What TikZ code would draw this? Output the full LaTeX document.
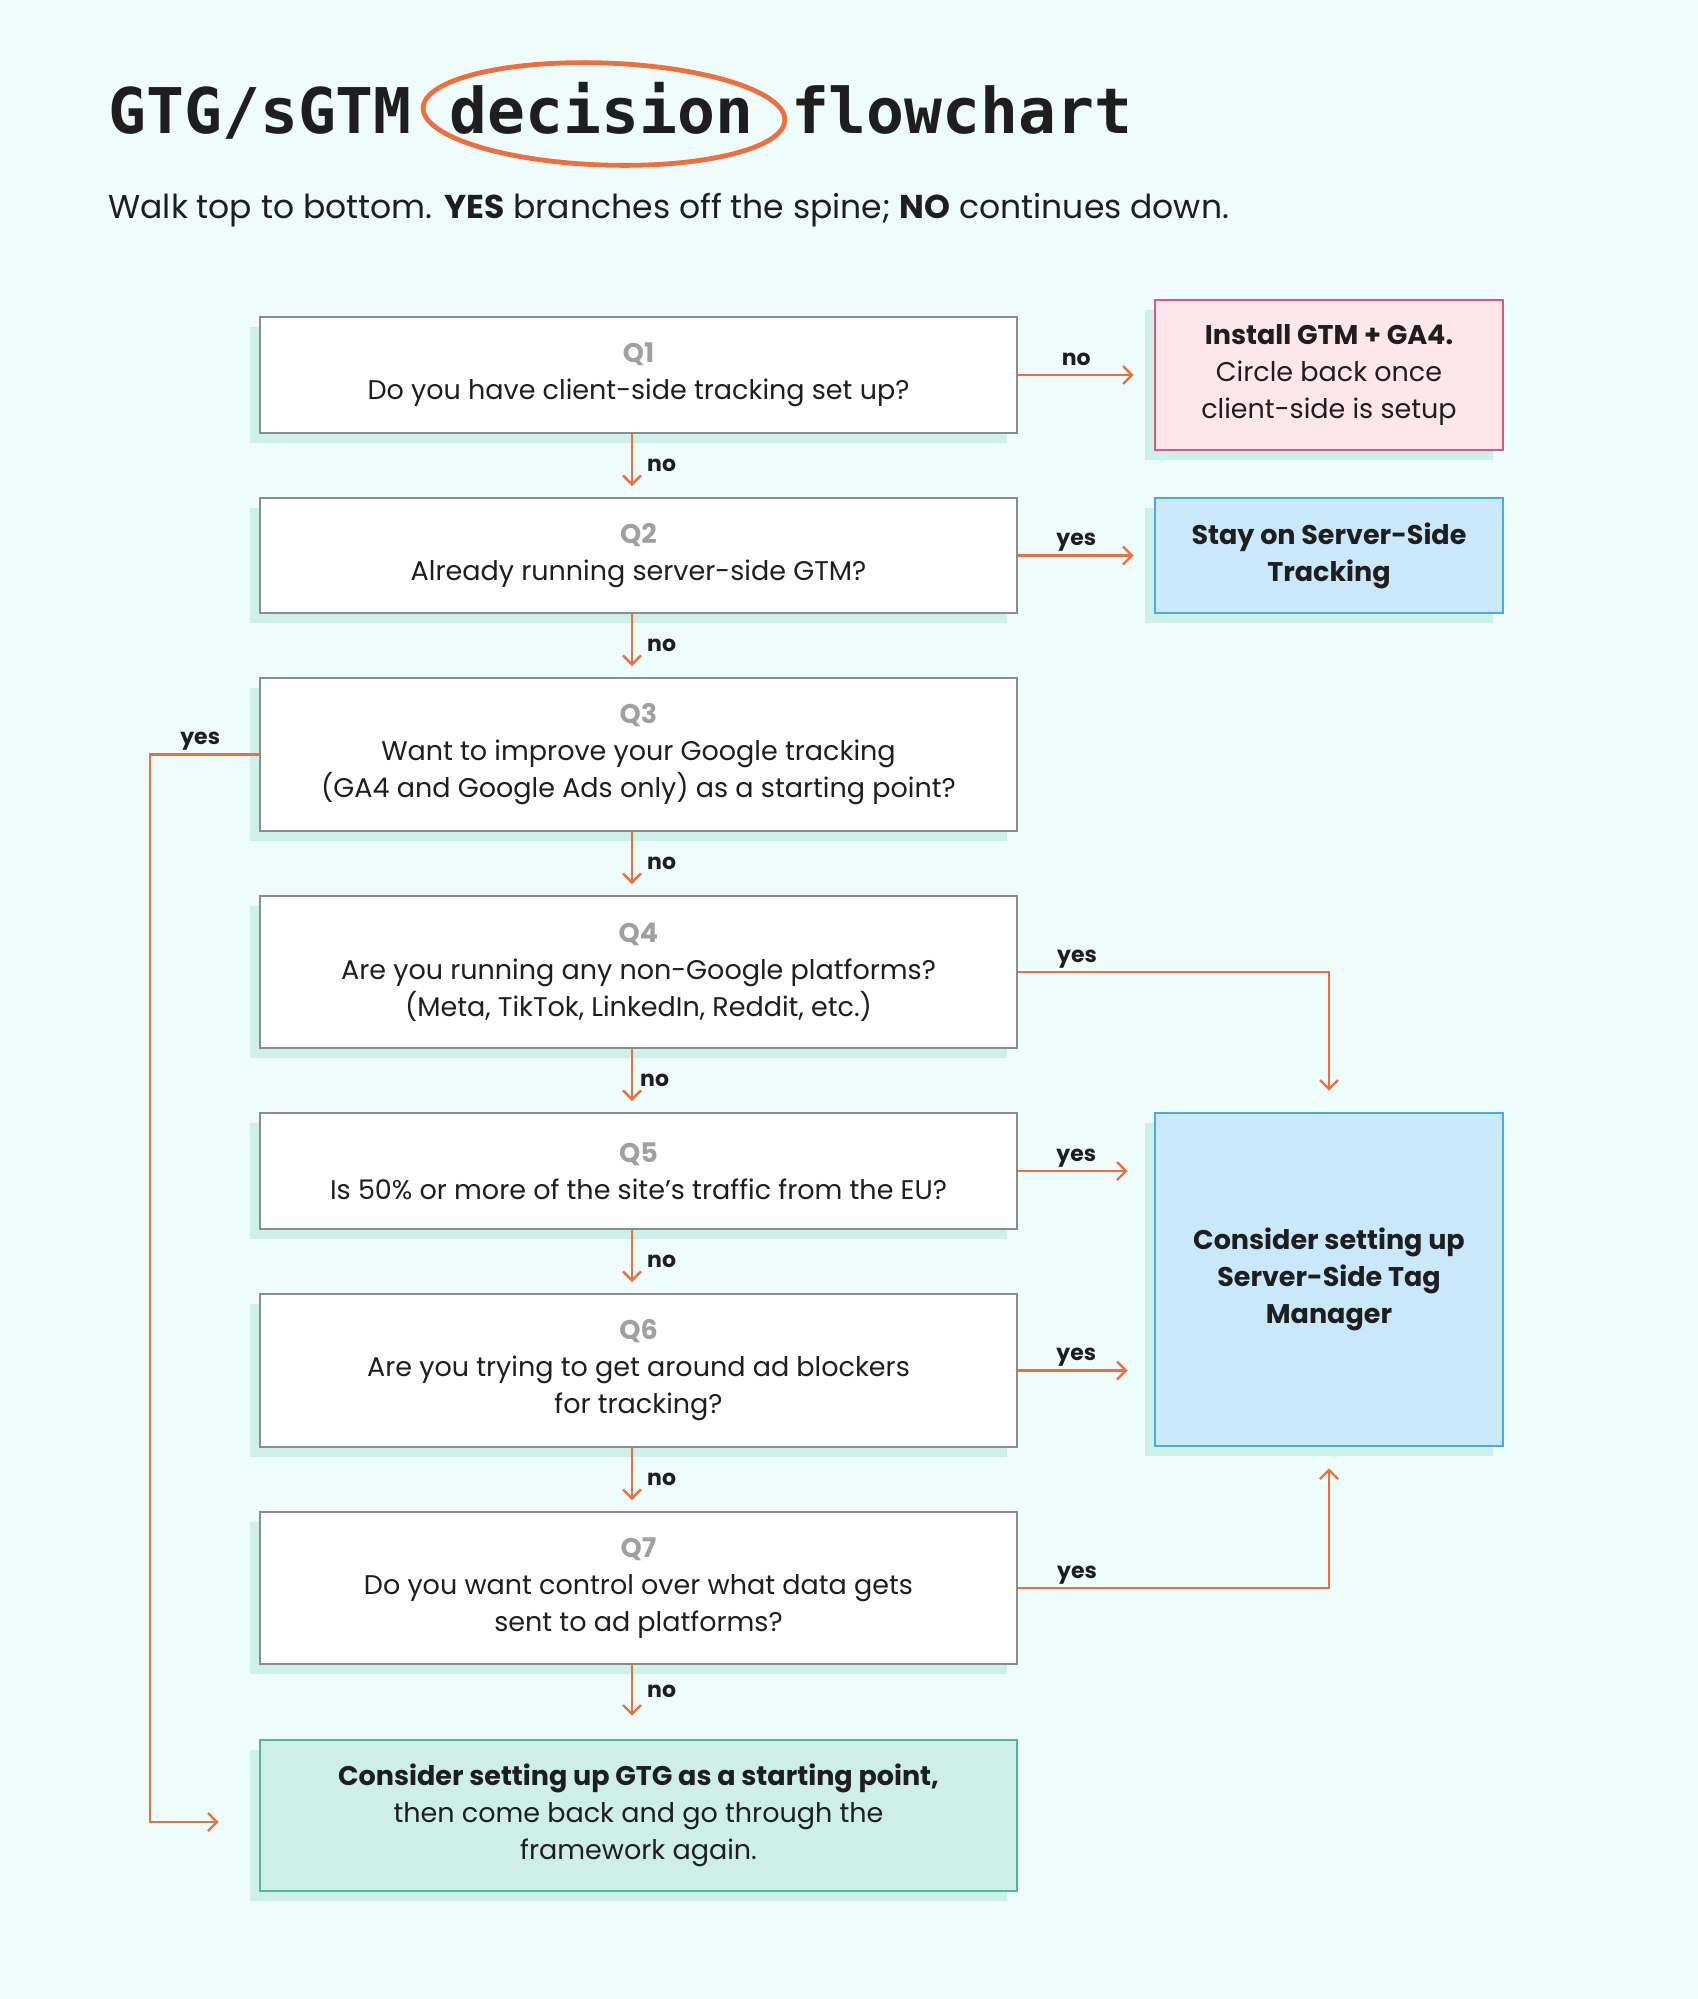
\documentclass[tikz,border=0pt]{standalone}
\usepackage{fontspec}
\setmainfont{Poppins}
\newfontfamily\titlefont{DejaVu Sans Mono}
\usetikzlibrary{arrows.meta,shadows,calc}
\definecolor{bgc}{HTML}{EEFDFC}
\definecolor{shd}{HTML}{CDF0E8}
\definecolor{org}{HTML}{F26D3D}
\definecolor{qbord}{HTML}{8C8C8C}
\definecolor{qlab}{HTML}{A0A0A0}
\definecolor{ink}{HTML}{1E1E1E}
\definecolor{pinkf}{HTML}{FDE6EC}
\definecolor{pinkb}{HTML}{E2557F}
\definecolor{bluef}{HTML}{C9E9FB}
\definecolor{blueb}{HTML}{4AAAE8}
\definecolor{greenf}{HTML}{CDEFE7}
\definecolor{greenb}{HTML}{52B890}
\begin{document}
\begin{tikzpicture}[x=0.5pt,y=-0.5pt,
  box/.style={line width=0.9pt, align=center, inner sep=0pt, text=ink,
    font=\fontsize{13.5}{18.5}\selectfont,
    drop shadow={shadow xshift=-5pt, shadow yshift=-5pt, fill=shd, opacity=1}},
  qbox/.style={box, draw=qbord, fill=white, minimum width=378.5pt},
  rbox/.style={box, line width=1.3pt, minimum width=174pt},
  arr/.style={draw=org, line width=1.2pt, -{Straight Barb[length=4.5pt,width=9pt]}},
  lbl/.style={inner sep=0pt, text=ink, font=\fontsize{11}{13}\selectfont\bfseries},
  hlbl/.style={lbl, anchor=base, yshift=5pt}]
\fill[bgc] (0,0) rectangle (1698,1999);
\useasboundingbox (0,0) rectangle (1698,1999);

% title
\node[anchor=base west, inner sep=0pt, text=ink, font=\titlefont\bfseries\fontsize{31.5}{36}\selectfont] (title) at (108,133) {GTG/sGTM decision flowchart};
\draw[org, line width=2.4pt, line cap=round, rotate around={-2:(604,114)}] ($(604,114)+(225:181 and 51)$) arc[start angle=225, end angle=598, x radius=181, y radius=51];
\node[anchor=base west, inner sep=0pt, text=ink, font=\fontsize{16.5}{20}\selectfont] (sub) at (108,218) {Walk top to bottom. \textbf{YES} branches off the spine; \textbf{NO} continues down.};

\coordinate (spine) at (632,0);
\coordinate (lx) at (150,1822);

% question boxes
\node[qbox, minimum height=58pt] (Q1) at (638.5,375) {{\bfseries\color{qlab}Q1}\\Do you have client-side tracking set up?};
\node[qbox, minimum height=57.5pt] (Q2) at (638.5,555.5) {{\bfseries\color{qlab}Q2}\\Already running server-side GTM?};
\node[qbox, minimum height=76.5pt] (Q3) at (638.5,754.5) {{\bfseries\color{qlab}Q3}\\Want to improve your Google tracking\\(GA4 and Google Ads only) as a starting point?};
\node[qbox, minimum height=76pt] (Q4) at (638.5,972) {{\bfseries\color{qlab}Q4}\\Are you running any non-Google platforms?\\(Meta, TikTok, LinkedIn, Reddit, etc.)};
\node[qbox, minimum height=58pt] (Q5) at (638.5,1171) {{\bfseries\color{qlab}Q5}\\Is 50\% or more of the site's traffic from the EU?};
\node[qbox, minimum height=76.5pt] (Q6) at (638.5,1370.5) {{\bfseries\color{qlab}Q6}\\Are you trying to get around ad blockers\\for tracking?};
\node[qbox, minimum height=76pt] (Q7) at (638.5,1588) {{\bfseries\color{qlab}Q7}\\Do you want control over what data gets\\sent to ad platforms?};
\node[box, draw=greenb, fill=greenf, line width=1.3pt, minimum width=378.5pt, minimum height=75.5pt] (final) at (638.5,1815.5) {\textbf{Consider setting up GTG as a starting point,}\\then come back and go through the\\framework again.};

% outcome boxes
\node[rbox, draw=pinkb, fill=pinkf, minimum height=75pt] (install) at (1329,375) {\textbf{Install GTM + GA4.}\\Circle back once\\client-side is setup};
\node[rbox, draw=blueb, fill=bluef, minimum height=57.5pt] (stay) at (1329,555.5) {\textbf{Stay on Server-Side}\\\textbf{Tracking}};
\node[rbox, draw=blueb, fill=bluef, minimum height=166.5pt] (sgtm) at (1329,1279.5) {\textbf{Consider setting up}\\\textbf{Server-Side Tag}\\\textbf{Manager}};

% spine
\draw[arr, shorten >=5.5pt] (Q1.south -| spine) -- node[lbl, right=7pt, pos=0.5] {no} (Q2.north -| spine);
\draw[arr, shorten >=5.5pt] (Q2.south -| spine) -- node[lbl, right=7pt, pos=0.5] {no} (Q3.north -| spine);
\draw[arr, shorten >=5.5pt] (Q3.south -| spine) -- node[lbl, right=7pt, pos=0.5] {no} (Q4.north -| spine);
\draw[arr, shorten >=5.5pt] (Q4.south -| spine) -- node[lbl, right=3.5pt, pos=0.5] {no} (Q5.north -| spine);
\draw[arr, shorten >=5.5pt] (Q5.south -| spine) -- node[lbl, right=7pt, pos=0.5] {no} (Q6.north -| spine);
\draw[arr, shorten >=5.5pt] (Q6.south -| spine) -- node[lbl, right=7pt, pos=0.5] {no} (Q7.north -| spine);
\draw[arr, shorten >=11.5pt] (Q7.south -| spine) -- node[lbl, right=7pt, pos=0.36] {no} (final.north -| spine);

% branches
\draw[arr, shorten >=10pt] (Q1.east) -- node[hlbl, pos=0.43] {no} (install.west |- Q1.east);
\draw[arr, shorten >=10pt] (Q2.east) -- node[hlbl, pos=0.43] {yes} (stay.west |- Q2.east);
\draw[arr, shorten >=10.5pt] (Q4.east) -| node[hlbl, pos=0.095] {yes} (sgtm.north);
\draw[arr, shorten >=13pt] (Q5.east) -- node[hlbl, pos=0.43] {yes} (sgtm.west |- Q5.east);
\draw[arr, shorten >=13pt] (Q6.east) -- node[hlbl, pos=0.43] {yes} (sgtm.west |- Q6.east);
\draw[arr, shorten >=10.5pt] (Q7.east) -| node[hlbl, pos=0.095] {yes} (sgtm.south);
\draw[arr, shorten >=20pt] (Q3.west) -| node[hlbl, pos=0.27] {yes} (lx) -- (lx -| final.west);
\end{tikzpicture}
\end{document}
